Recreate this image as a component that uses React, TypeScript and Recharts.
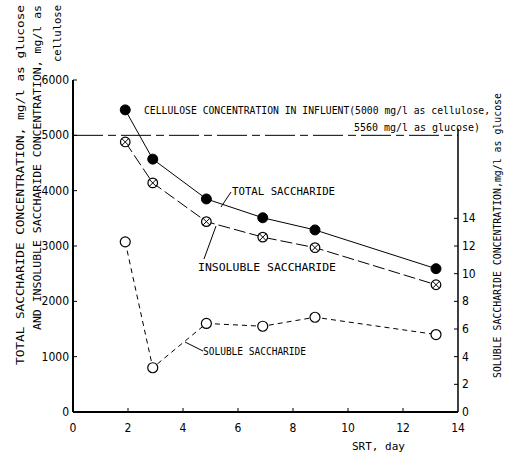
import React from 'react';
import { LineChart, Line, XAxis, YAxis, ReferenceLine } from 'recharts';

// SRT, day
const srtDays = [1.9, 2.9, 4.85, 6.9, 8.8, 13.2];
// mg/l as glucose (left axis)
const totalSaccharide = [5460, 4570, 3850, 3510, 3290, 2590];
const insolubleSaccharide = [4880, 4140, 3440, 3160, 2970, 2300];
// right axis scale
const solubleSaccharide = [12.3, 3.2, 6.4, 6.2, 6.85, 5.6];

const xTicks = [0, 2, 4, 6, 8, 10, 12, 14];
const leftTicks = [0, 1000, 2000, 3000, 4000, 5000, 6000];
const rightTicks = [0, 2, 4, 6, 8, 10, 12, 14];

const influentCellulose = 5000;

const data = srtDays.map((d, i) => ({
  srt: d,
  total: totalSaccharide[i],
  insoluble: insolubleSaccharide[i],
  soluble: solubleSaccharide[i],
}));

const FONT = "'Liberation Sans Narrow', 'DejaVu Sans Condensed', 'DejaVu Sans Mono', monospace";
const MONO = "'DejaVu Sans Mono', 'Liberation Mono', monospace";

const FilledDot = (props: any) => {
  const { cx, cy } = props;
  if (cx == null || cy == null) return null;
  return <circle cx={cx} cy={cy} r={5} fill="#000" stroke="#000" />;
};

const CrossDot = (props: any) => {
  const { cx, cy } = props;
  if (cx == null || cy == null) return null;
  const d = 3.2;
  return (
    <g>
      <circle cx={cx} cy={cy} r={4.8} fill="#fff" stroke="#000" strokeWidth={1.2} />
      <line x1={cx - d} y1={cy - d} x2={cx + d} y2={cy + d} stroke="#000" strokeWidth={1} />
      <line x1={cx - d} y1={cy + d} x2={cx + d} y2={cy - d} stroke="#000" strokeWidth={1} />
    </g>
  );
};

const OpenDot = (props: any) => {
  const { cx, cy } = props;
  if (cx == null || cy == null) return null;
  return <circle cx={cx} cy={cy} r={5} fill="#fff" stroke="#000" strokeWidth={1.2} />;
};

// tick renderers: labels plus short inward tick marks
const LeftTick = (props: any) => {
  const { x, y, payload } = props;
  return (
    <g>
      <line x1={x + 4} y1={y} x2={x + 8} y2={y} stroke="#000" />
      <text x={x} y={y} dy={4} textAnchor="end" fontFamily={FONT} fontSize={12} fill="#000">
        {payload.value}
      </text>
    </g>
  );
};

const BottomTick = (props: any) => {
  const { x, y, payload } = props;
  return (
    <g>
      {payload.value > 0 && payload.value < 14 && (
        <line x1={x} y1={y - 10} x2={x} y2={y - 14} stroke="#000" />
      )}
      <text x={x} y={y} dy={10} textAnchor="middle" fontFamily={FONT} fontSize={12} fill="#000">
        {payload.value}
      </text>
    </g>
  );
};

const RightTick = (props: any) => {
  const { x, y, payload } = props;
  return (
    <g>
      {payload.value > 0 && <line x1={x - 4} y1={y} x2={x - 8} y2={y} stroke="#000" />}
      <text x={x} y={y} dy={4} textAnchor="start" fontFamily={FONT} fontSize={12} fill="#000">
        {payload.value}
      </text>
    </g>
  );
};

export default function App() {
  return (
    <div style={{ position: 'absolute', left: 0, top: 0, width: 507, height: 456, background: '#fff' }}>
      <LineChart
        width={507}
        height={456}
        data={data}
        margin={{ top: 80, right: 9, bottom: 14, left: 33 }}
      >
        <XAxis
          dataKey="srt"
          type="number"
          domain={[0, 14]}
          ticks={xTicks}
          height={30}
          tickSize={0}
          tickMargin={10}
          tick={<BottomTick />}
          axisLine={{ stroke: '#000', strokeWidth: 2 }}
        />
        <YAxis
          yAxisId="left"
          domain={[0, 6000]}
          ticks={leftTicks}
          width={40}
          tickSize={0}
          tickMargin={4}
          tick={<LeftTick />}
          axisLine={{ stroke: '#000', strokeWidth: 2 }}
        />
        <YAxis
          yAxisId="right"
          orientation="right"
          domain={[0, 24]}
          ticks={rightTicks}
          width={40}
          tickSize={0}
          tickMargin={4}
          tick={<RightTick />}
          axisLine={false}
        />
        <ReferenceLine
          yAxisId="right"
          segment={[{ x: 14, y: 0 }, { x: 14, y: 20.5 }]}
          stroke="#000"
          strokeWidth={1.5}
          ifOverflow="visible"
        />
        <ReferenceLine
          yAxisId="left"
          y={influentCellulose}
          stroke="#000"
          strokeWidth={1}
          strokeDasharray="30 5 8 5"
        />
        <Line
          yAxisId="left"
          dataKey="total"
          stroke="#000"
          strokeWidth={1}
          dot={<FilledDot />}
          isAnimationActive={false}
        />
        <Line
          yAxisId="left"
          dataKey="insoluble"
          stroke="#000"
          strokeWidth={1}
          strokeDasharray="12 4"
          dot={<CrossDot />}
          isAnimationActive={false}
        />
        <Line
          yAxisId="right"
          dataKey="soluble"
          stroke="#000"
          strokeWidth={1}
          strokeDasharray="5 4"
          dot={<OpenDot />}
          isAnimationActive={false}
        />
      </LineChart>
      <svg
        width={507}
        height={456}
        style={{ position: 'absolute', left: 0, top: 0, pointerEvents: 'none' }}
        fontFamily={MONO}
        fontSize={10}
      >
        {/* axis titles */}
        <text transform="translate(24,365) rotate(-90)" textLength={360} lengthAdjust="spacingAndGlyphs">
          TOTAL SACCHARIDE CONCENTRATION, mg/l as glucose
        </text>
        <text transform="translate(41,330) rotate(-90)" textLength={325} lengthAdjust="spacingAndGlyphs">
          AND INSOLUBLE SACCHARIDE CONCENTRATION, mg/l as
        </text>
        <text transform="translate(61,62) rotate(-90)" textLength={57} lengthAdjust="spacingAndGlyphs">
          cellulose
        </text>
        <text transform="translate(501,378) rotate(-90)" textLength={285} lengthAdjust="spacingAndGlyphs">
          SOLUBLE SACCHARIDE CONCENTRATION,mg/l as glucose
        </text>
        <text x={352} y={450} fontSize={11}>SRT, day</text>
        {/* annotations */}
        <text x={144} y={114} textLength={346} lengthAdjust="spacingAndGlyphs">
          CELLULOSE CONCENTRATION IN INFLUENT(5000 mg/l as cellulose,
        </text>
        <text x={354} y={131} textLength={126} lengthAdjust="spacingAndGlyphs">
          5560 mg/l as glucose)
        </text>
        <text x={232} y={195} textLength={103} lengthAdjust="spacingAndGlyphs">TOTAL SACCHARIDE</text>
        <line x1={231} y1={192} x2={221} y2={207} stroke="#000" />
        <text x={198} y={271} textLength={138} lengthAdjust="spacingAndGlyphs">INSOLUBLE SACCHARIDE</text>
        <line x1={216} y1={226} x2={204} y2={259} stroke="#000" />
        <text x={203} y={355} textLength={103} lengthAdjust="spacingAndGlyphs">SOLUBLE SACCHARIDE</text>
        <line x1={185} y1={342} x2={203} y2={351} stroke="#000" />
      </svg>
    </div>
  );
}
